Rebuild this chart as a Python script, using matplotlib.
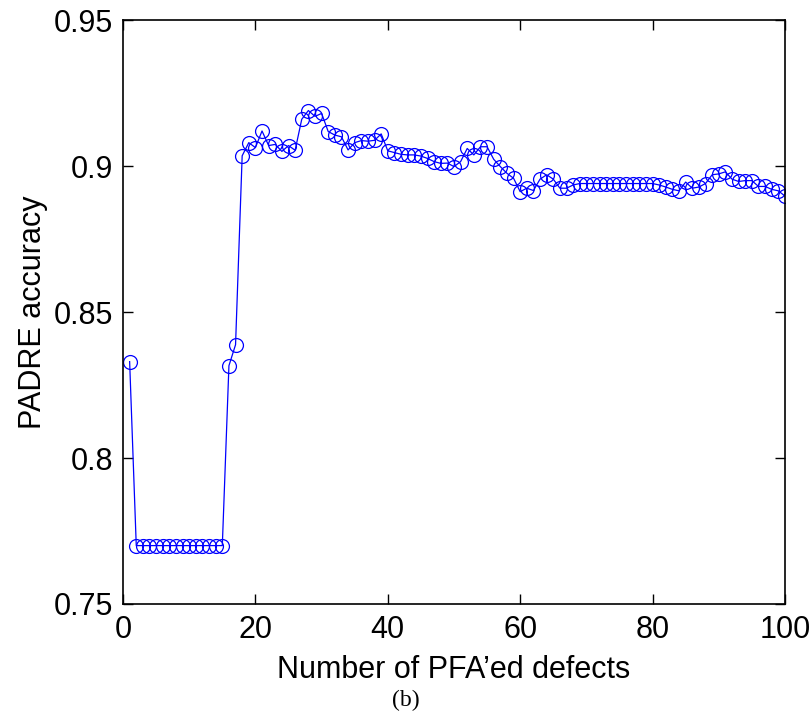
import matplotlib
matplotlib.use("Agg")
import matplotlib.pyplot as plt

# PADRE accuracy against the number of PFA'ed defects
n_defects = list(range(1, 101))
accuracy = [
    0.833, 0.770, 0.770, 0.770, 0.770, 0.770, 0.770, 0.770, 0.770, 0.770,
    0.770, 0.770, 0.770, 0.770, 0.770, 0.8316, 0.8388, 0.9035, 0.908, 0.9063,
    0.912, 0.907, 0.9074, 0.905, 0.907, 0.9054, 0.916, 0.919, 0.917, 0.918,
    0.9118, 0.9106, 0.910, 0.9055, 0.908, 0.9087, 0.9085, 0.9088, 0.911, 0.9052,
    0.9046, 0.904, 0.9038, 0.9038, 0.9034, 0.9026, 0.9015, 0.9009, 0.901, 0.8998,
    0.9015, 0.906, 0.9038, 0.9066, 0.9066, 0.9023, 0.8998, 0.8975, 0.8958, 0.8912,
    0.8924, 0.8916, 0.8955, 0.897, 0.8955, 0.8924, 0.8924, 0.8935, 0.894, 0.894,
    0.894, 0.894, 0.894, 0.894, 0.894, 0.894, 0.894, 0.894, 0.894, 0.894,
    0.8935, 0.8928, 0.892, 0.8915, 0.8945, 0.8924, 0.8928, 0.894, 0.897, 0.8973,
    0.898, 0.8955, 0.8947, 0.895, 0.895, 0.893, 0.893, 0.892, 0.8915, 0.8897,
]
x_ticks = [0, 20, 40, 60, 80, 100]
y_ticks = [0.75, 0.8, 0.85, 0.9, 0.95]
y_tick_labels = ["0.75", "0.8", "0.85", "0.9", "0.95"]

plt.rcParams["font.family"] = ["Liberation Sans", "DejaVu Sans"]

fig = plt.figure(figsize=(8.12, 7.25), dpi=100)
ax = fig.add_axes([0.1515, 0.1669, 0.8152, 0.8055])

ax.plot(n_defects, accuracy, color="#0000ff", linewidth=0.9,
        marker="o", markersize=10, markerfacecolor="none",
        markeredgecolor="#0000ff", markeredgewidth=0.9)

ax.set_xlim(0, 100)
ax.set_ylim(0.75, 0.95)
ax.set_xticks(x_ticks)
ax.set_yticks(y_ticks)
ax.set_yticklabels(y_tick_labels)
ax.tick_params(direction="in", length=7, width=1, labelsize=22,
               top=True, right=True, pad=7)
ax.tick_params(axis="x", pad=8)
for s in ax.spines.values():
    s.set_linewidth(1.2)

ax.set_xlabel("Number of PFA\u2019ed defects", fontsize=22, labelpad=7)
ax.set_ylabel("PADRE accuracy", fontsize=22, labelpad=4)

fig.text(0.5, 0.034, "(b)", ha="center", va="center", fontsize=17,
         family=["Liberation Serif", "DejaVu Serif"])

fig.savefig("out.png", dpi=100)
